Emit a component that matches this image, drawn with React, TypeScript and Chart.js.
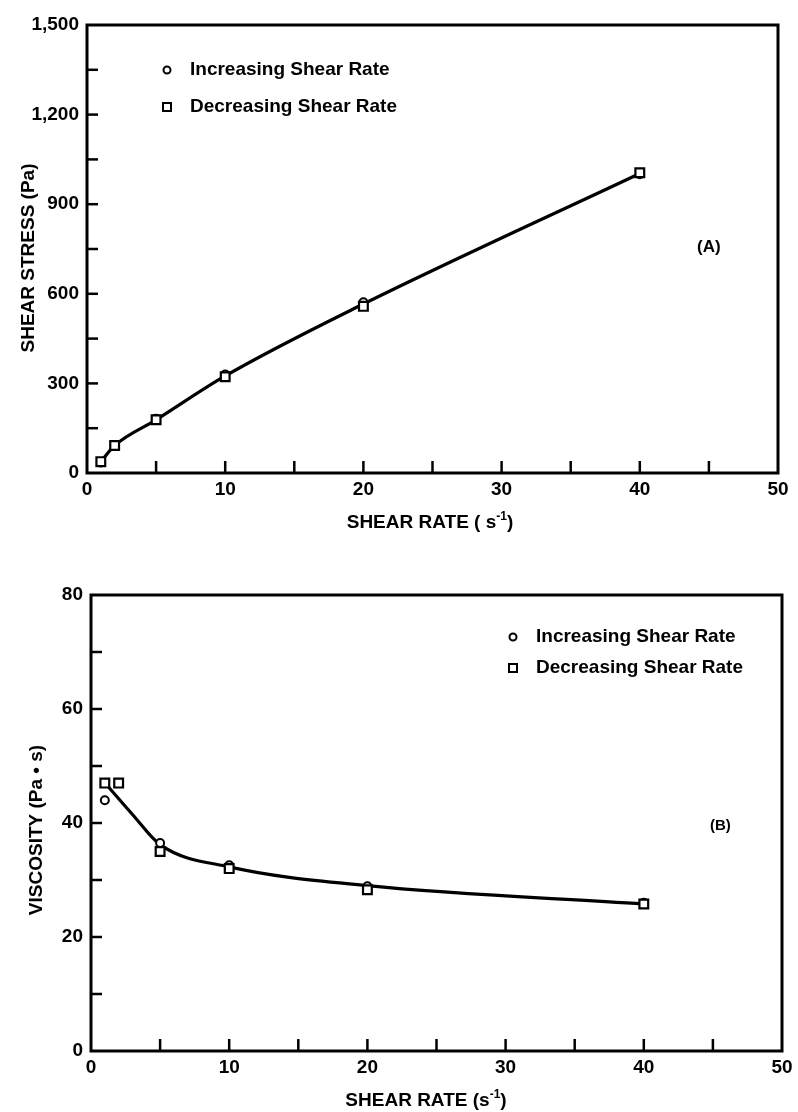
import React, { useEffect, useRef } from "react";
import { Chart, registerables } from "chart.js";

Chart.register(...registerables);

// ---------- Panel A: shear stress vs shear rate ----------
const stressRate = [1, 2, 5, 10, 20, 40];
const stressIncreasing = [35, 90, 182, 330, 572, 1000];
const stressDecreasing = [38, 92, 178, 322, 558, 1005];
const stressCurveRate = [1, 2, 5, 10, 20, 40];
const stressCurve = [38, 92, 178, 325, 566, 1003];
const stressLabeledTicks = [0, 300, 600, 900, 1200, 1500];

// ---------- Panel B: viscosity vs shear rate ----------
const viscIncreasingRate = [1, 5, 10, 20, 40];
const viscIncreasing = [44, 36.5, 32.6, 28.9, 26];
const viscDecreasingRate = [1, 2, 5, 10, 20, 40];
const viscDecreasing = [47, 47, 35, 32, 28.3, 25.8];
const viscCurveRate = [1.2, 3, 5, 10, 20, 40];
const viscCurve = [46.5, 41.5, 36.2, 32.3, 29, 25.8];
const viscLabeledTicks = [0, 20, 40, 60, 80];

const rateLabeledTicks = [0, 10, 20, 30, 40, 50];

const legendLabels = ["Increasing Shear Rate", "Decreasing Shear Rate"];

const FONT = '"Liberation Sans", Arial, Helvetica, sans-serif';

const pts = (xs: number[], ys: number[]) => xs.map((x, i) => ({ x, y: ys[i] }));

const framePlugin = {
  id: "frame",
  afterDraw(chart: any, _args: any, opts: any) {
    const { ctx, chartArea: a } = chart;
    const xs = chart.scales.x;
    const ys = chart.scales.y;
    ctx.save();
    ctx.strokeStyle = "#000";
    ctx.fillStyle = "#000";
    ctx.lineCap = "butt";
    // frame
    ctx.lineWidth = 3;
    ctx.strokeRect(a.left, a.top, a.right - a.left, a.bottom - a.top);
    // inner ticks
    ctx.lineWidth = 2.5;
    xs.ticks.forEach((t: any) => {
      if (t.value <= xs.min || t.value >= xs.max) return;
      const px = xs.getPixelForValue(t.value);
      ctx.beginPath();
      ctx.moveTo(px, a.bottom);
      ctx.lineTo(px, a.bottom - 12);
      ctx.stroke();
    });
    ys.ticks.forEach((t: any) => {
      if (t.value <= ys.min || t.value >= ys.max) return;
      const py = ys.getPixelForValue(t.value);
      ctx.beginPath();
      ctx.moveTo(a.left, py);
      ctx.lineTo(a.left + 11, py);
      ctx.stroke();
    });

    // x title with superscript
    ctx.textBaseline = "alphabetic";
    ctx.textAlign = "left";
    const mainFont = `bold 19px ${FONT}`;
    const supFont = `bold 12px ${FONT}`;
    ctx.font = mainFont;
    const w1 = ctx.measureText(opts.xTitleA).width;
    const w3 = ctx.measureText(")").width;
    ctx.font = supFont;
    const w2 = ctx.measureText(opts.xTitleSup).width;
    const total = w1 + w2 + w3;
    const x0 = opts.xTitleX - total / 2;
    ctx.font = mainFont;
    ctx.fillText(opts.xTitleA, x0, opts.xTitleY);
    ctx.font = supFont;
    ctx.fillText(opts.xTitleSup, x0 + w1, opts.xTitleY - 8);
    ctx.font = mainFont;
    ctx.fillText(")", x0 + w1 + w2, opts.xTitleY);

    // y title rotated
    ctx.save();
    ctx.translate(opts.yTitleX, opts.yTitleY);
    ctx.rotate(-Math.PI / 2);
    ctx.textAlign = "center";
    ctx.textBaseline = "middle";
    ctx.font = `bold 19px ${FONT}`;
    ctx.fillText(opts.yTitle, 0, 0);
    ctx.restore();

    // legend
    ctx.font = `bold 19px ${FONT}`;
    ctx.textAlign = "left";
    ctx.textBaseline = "middle";
    ctx.lineWidth = 2;
    const lx = opts.legendX;
    const ly = opts.legendY;
    ctx.beginPath();
    ctx.arc(lx, ly, 3.5, 0, Math.PI * 2);
    ctx.stroke();
    ctx.fillText(legendLabels[0], lx + 23, ly);
    ctx.strokeRect(lx - 4, ly + opts.legendGap - 4, 8, 8);
    ctx.fillText(legendLabels[1], lx + 23, ly + opts.legendGap);

    // panel label
    ctx.font = `bold ${opts.panelSize}px ${FONT}`;
    ctx.fillText(opts.panel, opts.panelX, opts.panelY);
    ctx.restore();
  },
};

type PanelCfg = {
  padTop: number;
  padRight: number;
  yWidth: number;
  xHeight: number;
  yMax: number;
  yStep: number;
  yLabels: number[];
  datasets: any[];
  plugin: any;
};

function makeConfig(p: PanelCfg): any {
  return {
    type: "scatter",
    data: { datasets: p.datasets },
    options: {
      responsive: false,
      animation: false,
      events: [],
      layout: { padding: { top: p.padTop, right: p.padRight, left: 0, bottom: 0 } },
      plugins: {
        legend: { display: false },
        tooltip: { enabled: false },
        frame: p.plugin,
      },
      scales: {
        x: {
          type: "linear",
          min: 0,
          max: 50,
          grid: { display: false, drawTicks: false },
          border: { display: false },
          afterFit: (s: any) => {
            s.height = p.xHeight;
          },
          afterBuildTicks: (s: any) => {
            const arr = [];
            for (let v = 0; v <= 50; v += 5) arr.push({ value: v });
            s.ticks = arr;
          },
          ticks: {
            autoSkip: false,
            maxRotation: 0,
            padding: 5,
            color: "#000",
            font: { family: FONT, size: 19, weight: "bold" },
            callback: (v: number) => (rateLabeledTicks.includes(v) ? String(v) : ""),
          },
        },
        y: {
          type: "linear",
          min: 0,
          max: p.yMax,
          grid: { display: false, drawTicks: false },
          border: { display: false },
          afterFit: (s: any) => {
            s.width = p.yWidth;
          },
          afterBuildTicks: (s: any) => {
            const arr = [];
            for (let v = 0; v <= p.yMax + 1e-9; v += p.yStep) arr.push({ value: v });
            s.ticks = arr;
          },
          ticks: {
            autoSkip: false,
            padding: 8,
            color: "#000",
            font: { family: FONT, size: 19, weight: "bold" },
            callback: (v: number) =>
              p.yLabels.includes(v) ? v.toLocaleString("en-US") : "",
          },
        },
      },
    },
    plugins: [framePlugin],
  };
}

const circleStyle = {
  pointStyle: "circle",
  pointRadius: 4,
  pointBorderWidth: 2,
  pointBorderColor: "#000",
  pointBackgroundColor: "#fff",
  showLine: false,
};
const squareStyle = {
  pointStyle: "rect",
  pointRadius: 6.2,
  pointBorderWidth: 2.2,
  pointBorderColor: "#000",
  pointBackgroundColor: "#fff",
  showLine: false,
};
const curveStyle = {
  showLine: true,
  borderColor: "#000",
  borderWidth: 3.2,
  pointRadius: 0,
  cubicInterpolationMode: "monotone",
  fill: false,
};

function ChartPanel({ config, top, height }: { config: any; top: number; height: number }) {
  const ref = useRef<HTMLCanvasElement | null>(null);
  useEffect(() => {
    if (!ref.current) return;
    const chart = new Chart(ref.current, config);
    return () => chart.destroy();
  }, [config]);
  return (
    <canvas
      ref={ref}
      width={798}
      height={height}
      style={{ position: "absolute", left: 0, top, width: 798, height }}
    />
  );
}

const topConfig = makeConfig({
  padTop: 25,
  padRight: 20,
  yWidth: 87,
  xHeight: 556 - 473,
  yMax: 1500,
  yStep: 150,
  yLabels: stressLabeledTicks,
  datasets: [
    { label: legendLabels[1], data: pts(stressRate, stressDecreasing), ...squareStyle, order: 1 },
    { label: legendLabels[0], data: pts(stressRate, stressIncreasing), ...circleStyle, order: 2 },
    { label: "fit", data: pts(stressCurveRate, stressCurve), ...curveStyle, order: 3 },
  ],
  plugin: {
    xTitleA: "SHEAR RATE ( s",
    xTitleSup: "-1",
    xTitleX: 430,
    xTitleY: 528,
    yTitle: "SHEAR STRESS (Pa)",
    yTitleX: 29,
    yTitleY: 258,
    legendX: 167,
    legendY: 70,
    legendGap: 37,
    panel: "(A)",
    panelX: 697,
    panelY: 247,
    panelSize: 17,
  },
});

const bottomConfig = makeConfig({
  padTop: 39,
  padRight: 16,
  yWidth: 91,
  xHeight: 556 - 495,
  yMax: 80,
  yStep: 10,
  yLabels: viscLabeledTicks,
  datasets: [
    { label: legendLabels[1], data: pts(viscDecreasingRate, viscDecreasing), ...squareStyle, order: 1 },
    { label: legendLabels[0], data: pts(viscIncreasingRate, viscIncreasing), ...circleStyle, order: 2 },
    { label: "fit", data: pts(viscCurveRate, viscCurve), ...curveStyle, order: 3 },
  ],
  plugin: {
    xTitleA: "SHEAR RATE (s",
    xTitleSup: "-1",
    xTitleX: 426,
    xTitleY: 550,
    yTitle: "VISCOSITY (Pa \u2022 s)",
    yTitleX: 37,
    yTitleY: 274,
    legendX: 513,
    legendY: 81,
    legendGap: 31,
    panel: "(B)",
    panelX: 710,
    panelY: 270,
    panelSize: 15,
  },
});

export default function App() {
  return (
    <div
      style={{
        position: "absolute",
        left: 0,
        top: 0,
        width: 798,
        height: 1112,
        background: "#fff",
        overflow: "hidden",
      }}
    >
      <ChartPanel config={topConfig} top={0} height={556} />
      <ChartPanel config={bottomConfig} top={556} height={556} />
    </div>
  );
}
